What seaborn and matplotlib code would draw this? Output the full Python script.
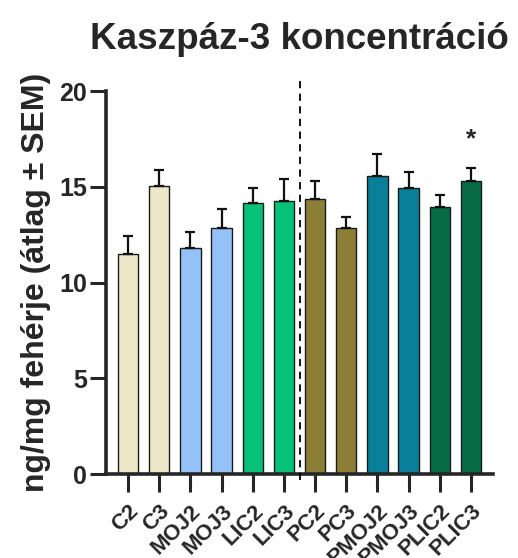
import numpy as np
import pandas as pd
import matplotlib
matplotlib.use("Agg")
import matplotlib.pyplot as plt
import seaborn as sns

sns.set_style("ticks")
plt.rcParams['font.family'] = ['Liberation Sans', 'DejaVu Sans']
plt.rcParams['font.weight'] = 'bold'

# Adatok
groups = ['C2', 'C3', 'MOJ2', 'MOJ3', 'LIC2', 'LIC3',
          'PC2', 'PC3', 'PMOJ2', 'PMOJ3', 'PLIC2', 'PLIC3']
means = [11.48, 15.03, 11.81, 12.86, 14.16, 14.26,
         14.37, 12.86, 15.58, 14.94, 13.95, 15.31]
sems = [0.97, 0.87, 0.85, 0.99, 0.75, 1.15,
        0.92, 0.54, 1.13, 0.85, 0.64, 0.65]
colors = ['#EDE7CA', '#EDE7CA', '#93C1F8', '#93C1F8', '#07C07A', '#07C07A',
          '#8C7E37', '#8C7E37', '#0A7F9A', '#0A7F9A', '#076B47', '#076B47']
signif = ['', '', '', '', '', '', '', '', '', '', '', '*']

df = pd.DataFrame({'csoport': groups, 'atlag': means, 'sem': sems})

fig = plt.figure(figsize=(5.18, 5.58), dpi=100)
ax = fig.add_axes([0.2046, 0.1505, 0.7478, 0.6864])

sns.barplot(data=df, x='csoport', y='atlag', hue='csoport', palette=colors,
            legend=False, width=0.65, edgecolor='#1a1a1a', linewidth=1.0,
            saturation=1, errorbar=None, ax=ax)

x = np.arange(len(groups))
ax.errorbar(x, df['atlag'], yerr=[np.zeros(len(groups)), df['sem']],
            fmt='none', ecolor='#111111', elinewidth=1.6, capsize=3.6,
            capthick=1.6, zorder=3)

# Szignifikancia jelölés
for xi, m, s, lab in zip(x, means, sems, signif):
    if lab:
        ax.text(xi, m + s + 1.5, lab, ha='center', va='center',
                fontsize=19, fontweight='bold')

# Szaggatott elválasztó vonal
ax.plot([5.5, 5.5], [-0.3, 20.5], color='black', lw=1.3,
        ls=(0, (4, 3)), clip_on=False, zorder=4)

ax.set_xlim(-0.71, 11.72)
ax.set_ylim(0, 20)
ax.set_yticks([0, 5, 10, 15, 20])
ax.set_xlabel('')
ax.set_ylabel('ng/mg fehérje (átlag ± SEM)', fontsize=23, fontweight='bold',
              labelpad=6)
ax.set_title('Kaszpáz-3 koncentráció', fontsize=26.5, fontweight='bold',
             pad=30)

sns.despine(ax=ax)
for sp in ['left', 'bottom']:
    ax.spines[sp].set_linewidth(2.6)
ax.tick_params(axis='y', length=11.5, width=2.2, labelsize=18, pad=2)
ax.tick_params(axis='x', length=13, width=2.2, labelsize=16, pad=6)
plt.setp(ax.get_xticklabels(), rotation=45, ha='right',
         rotation_mode='anchor', fontweight='bold')
plt.setp(ax.get_yticklabels(), fontweight='bold')

plt.savefig('out.png', dpi=100)
